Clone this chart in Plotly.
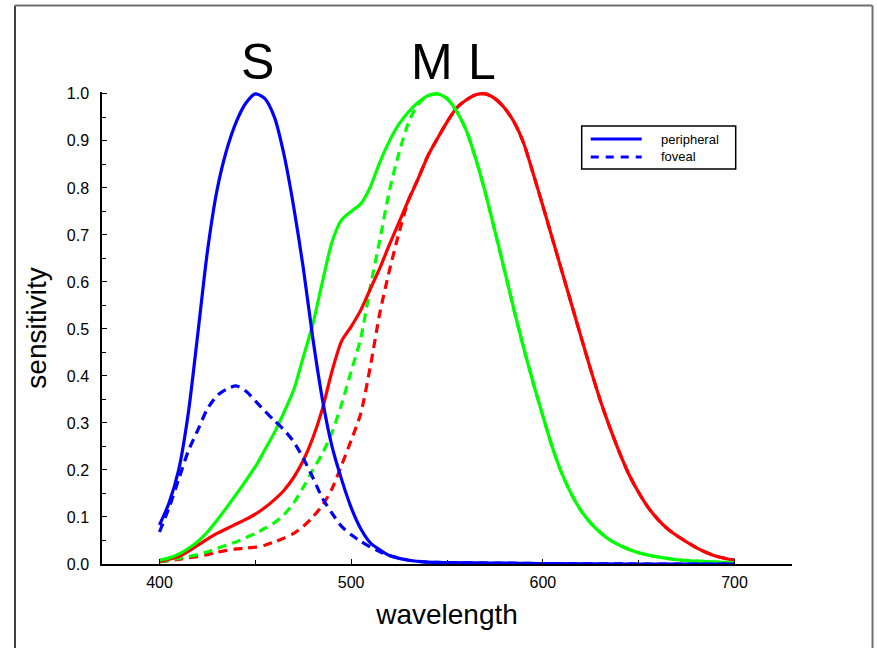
import plotly.graph_objects as go

# Cone spectral sensitivities (normalised), peripheral vs foveal
wl_s = [400, 405, 410, 415, 420, 425, 430, 435, 440, 445, 450, 455, 460, 465, 470,
        475, 480, 485, 490, 495, 500, 505, 510, 515, 520, 530, 540, 550, 575, 600,
        650, 700]
s_peripheral = [0.083, 0.13, 0.2, 0.32, 0.49, 0.665, 0.795, 0.88, 0.94, 0.98, 1.0, 0.99,
                0.95, 0.87, 0.76, 0.63, 0.48, 0.35, 0.25, 0.18, 0.12, 0.075, 0.045,
                0.03, 0.018, 0.008, 0.004, 0.003, 0.002, 0.001, 0.0, 0.0]
s_foveal = [0.068, 0.12, 0.18, 0.24, 0.285, 0.33, 0.358, 0.372, 0.379, 0.368, 0.347,
            0.325, 0.305, 0.285, 0.26, 0.225, 0.184, 0.14, 0.108, 0.08, 0.062,
            0.048, 0.036, 0.026, 0.018, 0.008, 0.004, 0.003, 0.002, 0.001, 0.0, 0.0]

wl_ml = [400, 405, 410, 415, 420, 425, 430, 435, 440, 445, 450, 455, 460, 465, 470,
         475, 480, 485, 490, 495, 500, 505, 510, 515, 520, 525, 530, 535, 540, 545,
         550, 555, 560, 565, 570, 575, 580, 585, 590, 595, 600, 605, 610, 615, 620,
         625, 630, 635, 640, 645, 650, 655, 660, 665, 670, 680, 690, 700]
m_peripheral = [0.008, 0.013, 0.021, 0.033, 0.048, 0.068, 0.093, 0.12, 0.148, 0.177,
                0.207, 0.243, 0.28, 0.323, 0.37, 0.44, 0.51, 0.6, 0.685, 0.732, 0.75,
                0.766, 0.802, 0.855, 0.9, 0.936, 0.962, 0.982, 0.996, 1.0, 0.99, 0.963,
                0.923, 0.862, 0.79, 0.708, 0.625, 0.54, 0.46, 0.385, 0.315, 0.248,
                0.192, 0.148, 0.113, 0.087, 0.067, 0.051, 0.04, 0.031, 0.024, 0.019,
                0.015, 0.012, 0.009, 0.006, 0.004, 0.003]
m_foveal = [0.005, 0.008, 0.012, 0.016, 0.02, 0.026, 0.033, 0.04, 0.047, 0.056, 0.065,
            0.076, 0.088, 0.105, 0.13, 0.163, 0.2, 0.235, 0.28, 0.34, 0.41, 0.48,
            0.59, 0.69, 0.795, 0.875, 0.94, 0.978, 0.996, 1.0, 0.99, 0.963, 0.923,
            0.862, 0.79, 0.708, 0.625, 0.54, 0.46, 0.385, 0.315, 0.248, 0.192, 0.148,
            0.113, 0.087, 0.067, 0.051, 0.04, 0.031, 0.024, 0.019, 0.015, 0.012,
            0.009, 0.006, 0.004, 0.003]
l_peripheral = [0.005, 0.01, 0.016, 0.027, 0.04, 0.053, 0.065, 0.075, 0.085, 0.095,
                0.106, 0.12, 0.137, 0.157, 0.184, 0.22, 0.268, 0.33, 0.41, 0.474,
                0.505, 0.54, 0.585, 0.63, 0.68, 0.727, 0.775, 0.82, 0.868, 0.905,
                0.94, 0.97, 0.987, 0.998, 1.0, 0.99, 0.97, 0.94, 0.895, 0.83, 0.762,
                0.692, 0.622, 0.552, 0.482, 0.413, 0.348, 0.29, 0.237, 0.19, 0.152,
                0.12, 0.095, 0.075, 0.06, 0.035, 0.017, 0.008]
l_foveal = [0.005, 0.007, 0.01, 0.013, 0.016, 0.02, 0.025, 0.029, 0.032, 0.034, 0.036,
            0.04, 0.047, 0.055, 0.065, 0.08, 0.1, 0.125, 0.16, 0.21, 0.263, 0.32,
            0.42, 0.535, 0.625, 0.705, 0.775, 0.82, 0.868, 0.905, 0.94, 0.97, 0.987,
            0.998, 1.0, 0.99, 0.97, 0.94, 0.895, 0.83, 0.762, 0.692, 0.622, 0.552,
            0.482, 0.413, 0.348, 0.29, 0.237, 0.19, 0.152, 0.12, 0.095, 0.075, 0.06,
            0.035, 0.017, 0.008]

cone_labels = ["S", "M", "L"]
cone_peaks = [451, 542, 568]

x_ticks = [400, 500, 600, 700]
y_ticks = [round(0.1 * i, 1) for i in range(11)]

BLUE, GREEN, RED = "#0000ff", "#00ff00", "#ff0000"
FONT = "Liberation Sans, Arial, Helvetica, sans-serif"
LW = 3.2
DASH = "9px,6px"

fig = go.Figure()


def add_curve(x, y, color, dashed, name):
    fig.add_trace(go.Scatter(
        x=x, y=y, mode="lines", name=name, showlegend=False,
        line=dict(color=color, width=LW, shape="spline", smoothing=0.7,
                  dash=DASH if dashed else "solid"),
        hoverinfo="skip",
    ))


add_curve(wl_ml, l_foveal, RED, True, "L foveal")
add_curve(wl_ml, m_foveal, GREEN, True, "M foveal")
add_curve(wl_ml, l_peripheral, RED, False, "L peripheral")
add_curve(wl_ml, m_peripheral, GREEN, False, "M peripheral")
add_curve(wl_s, s_foveal, BLUE, True, "S foveal")
add_curve(wl_s, s_peripheral, BLUE, False, "S peripheral")

# Cone class labels above each peak
for lab, pk in zip(cone_labels, cone_peaks):
    fig.add_annotation(x=pk, xref="x", y=1.064, yref="paper", text=lab,
                       showarrow=False, xanchor="center", yanchor="middle",
                       font=dict(family=FONT, size=50, color="black"))

# Legend box drawn with shapes
shapes = [
    dict(type="rect", xref="paper", yref="paper", x0=0.6952, x1=0.9184,
         y0=0.8369, y1=0.928, line=dict(color="black", width=1.5),
         fillcolor="white", layer="above"),
    dict(type="line", xref="paper", yref="paper", x0=0.7083, x1=0.7822,
         y0=0.9004, y1=0.9004, line=dict(color=BLUE, width=3.2)),
    dict(type="line", xref="paper", yref="paper", x0=0.7083, x1=0.7822,
         y0=0.8623, y1=0.8623, line=dict(color=BLUE, width=3.2, dash="8px,7px")),
    # page frame
    dict(type="line", xref="paper", yref="paper", x0=-0.1261, x1=-0.1261,
         y0=-0.2, y1=1.1833, line=dict(color="black", width=1.5)),
    dict(type="line", xref="paper", yref="paper", x0=-0.1261, x1=1.1167,
         y0=1.1833, y1=1.1833, line=dict(color="#707070", width=2)),
    dict(type="line", xref="paper", yref="paper", x0=1.1167, x1=1.1167,
         y0=-0.2, y1=1.1833, line=dict(color="#707070", width=2)),
]
for s in shapes:
    fig.add_shape(**s)
fig.add_annotation(x=0.8072, y=0.9004, xref="paper", yref="paper", text="peripheral",
                   showarrow=False, xanchor="left", yanchor="middle",
                   font=dict(family=FONT, size=13, color="black"))
fig.add_annotation(x=0.8072, y=0.8623, xref="paper", yref="paper", text="foveal",
                   showarrow=False, xanchor="left", yanchor="middle",
                   font=dict(family=FONT, size=13, color="black"))

fig.update_layout(
    width=877, height=648,
    margin=dict(l=102, r=85, t=92, b=84),
    paper_bgcolor="white", plot_bgcolor="white",
    font=dict(family=FONT, color="black"),
    showlegend=False,
    xaxis=dict(
        range=[370, 730], tickvals=x_ticks, ticktext=[str(v) for v in x_ticks],
        ticks="inside", ticklen=5, tickcolor="black", tickwidth=1,
        showline=True, linecolor="black", linewidth=1.5,
        showgrid=False, zeroline=False,
        tickfont=dict(family=FONT, size=16), ticklabelstandoff=3,
        minor=dict(dtick=50, tick0=400, ticks="inside", ticklen=4, tickcolor="black"),
        title=dict(text="wavelength", font=dict(family=FONT, size=28), standoff=14),
    ),
    yaxis=dict(
        range=[0, 1.004], tickvals=y_ticks, ticktext=[f"{v:.1f}" for v in y_ticks],
        ticks="inside", ticklen=5, tickcolor="black", tickwidth=1,
        showline=True, linecolor="black", linewidth=1.5,
        showgrid=False, zeroline=False,
        tickfont=dict(family=FONT, size=16), ticklabelstandoff=8,
        minor=dict(dtick=0.05, tick0=0, ticks="inside", ticklen=4, tickcolor="black"),
        title=dict(text="sensitivity", font=dict(family=FONT, size=28), standoff=12),
    ),
)

fig.write_html("out.html")
